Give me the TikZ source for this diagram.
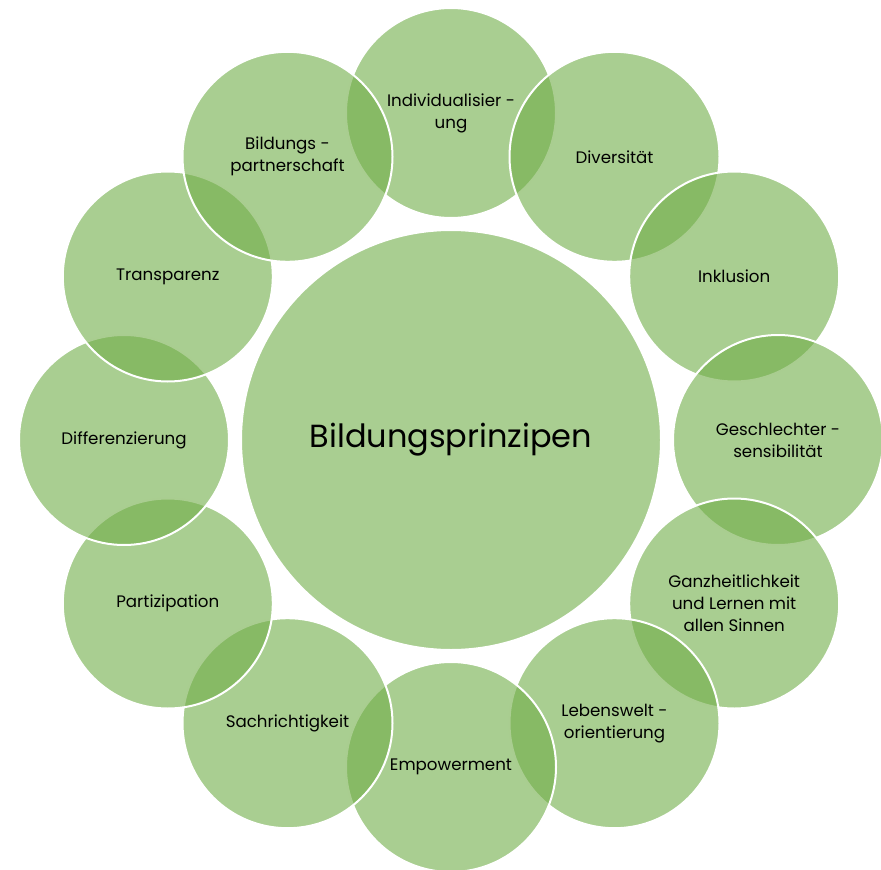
\documentclass[tikz,border=0pt]{standalone}
\usepackage{fontspec}
\setmainfont{Poppins}
\definecolor{gfill}{HTML}{70AD47}
\begin{document}
\begin{tikzpicture}[x=0.75pt,y=-0.75pt,
  bubble/.style={circle,fill=gfill,fill opacity=0.6,text opacity=1,draw=white,
    line width=1.5pt,minimum size=157.5pt,inner sep=0pt,align=center,
    font=\fontsize{12.5}{16.5}\selectfont},
  hub/.style={bubble,minimum size=315pt,font=\fontsize{24}{28}\selectfont}]
\useasboundingbox (0,0) rectangle (881,870);
\node[hub] (c) at (451,440) {Bildungsprinzipen};
\begin{scope}[shift={(451,440)}]
\node[bubble] (n1)  at (-90:327)  {Individualisier -\\ung};
\node[bubble] (n2)  at (-60:327)  {Diversität};
\node[bubble] (n3)  at (-30:327)  {Inklusion};
\node[bubble] (n4)  at (0:327)    {Geschlechter -\\sensibilität};
\node[bubble] (n5)  at (30:327)   {Ganzheitlichkeit\\und Lernen mit\\allen Sinnen};
\node[bubble] (n6)  at (60:327)   {Lebenswelt -\\orientierung};
\node[bubble] (n7)  at (90:327)   {Empowerment};
\node[bubble] (n8)  at (120:327)  {Sachrichtigkeit};
\node[bubble] (n9)  at (150:327)  {Partizipation};
\node[bubble] (n10) at (180:327)  {Differenzierung};
\node[bubble] (n11) at (210:327)  {Transparenz};
\node[bubble] (n12) at (240:327)  {Bildungs -\\partnerschaft};
\end{scope}
\end{tikzpicture}
\end{document}
